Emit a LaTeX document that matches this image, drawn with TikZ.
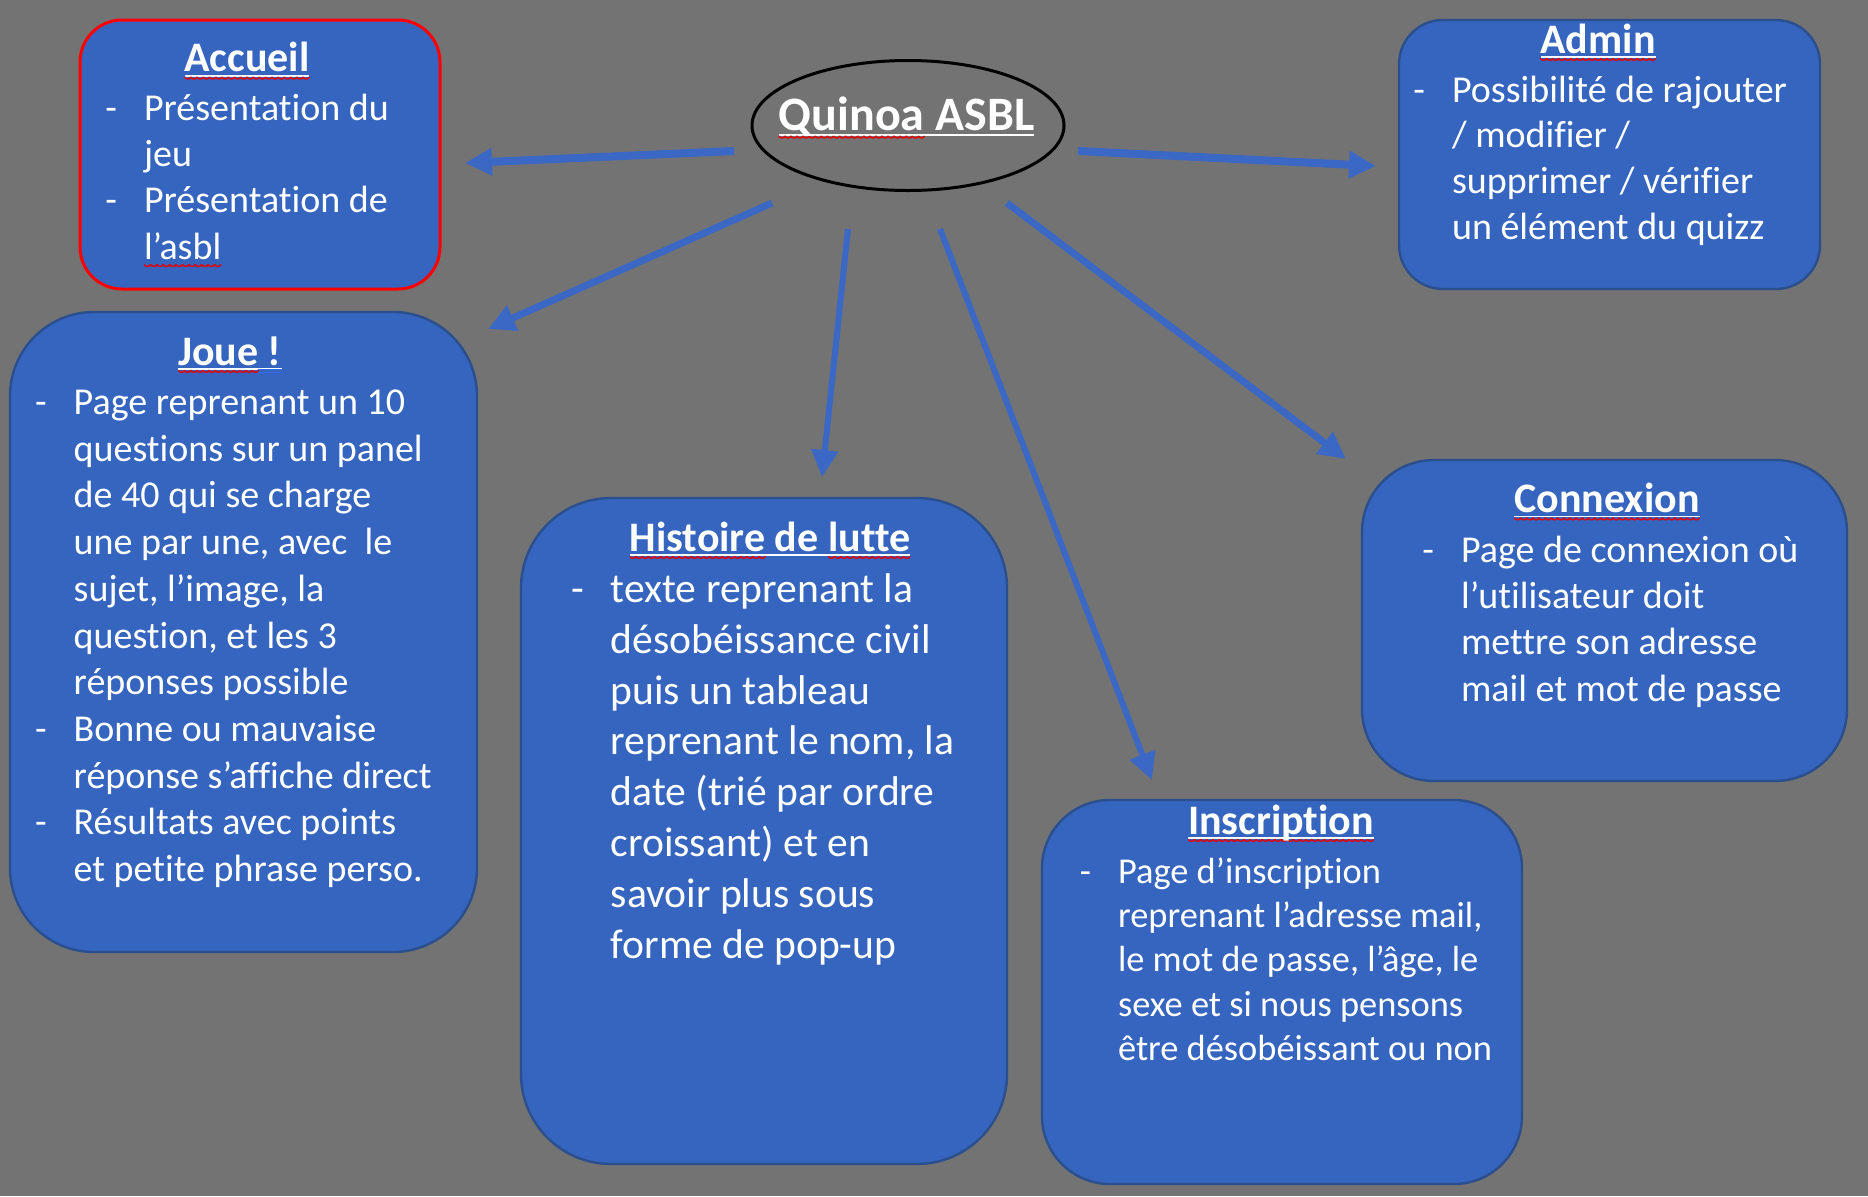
\documentclass[tikz,border=0pt]{standalone}
\usepackage{fontspec}
\setmainfont{Carlito}[Ligatures=NoCommon]
\usetikzlibrary{shapes.geometric,arrows.meta}

\definecolor{slidegray}{HTML}{737373}
\definecolor{boxblue}{HTML}{3565BF}
\definecolor{boxedge}{HTML}{2B4F8C}
\definecolor{linkblue}{HTML}{3B68C5}
\definecolor{spellred}{HTML}{E60000}
\definecolor{grammarblue}{HTML}{2F6BE8}

\newsavebox\headbox
\newsavebox\wordbox
\newsavebox\wavebox
\sbox\wavebox{\begin{pgfpicture}
  \pgfpathmoveto{\pgfpoint{0pt}{1.3pt}}
  \pgfpathcurveto{\pgfpoint{0.3pt}{-0.1pt}}{\pgfpoint{2.7pt}{-0.1pt}}{\pgfpoint{3pt}{1.3pt}}
  \pgfsetlinewidth{0.7pt}
  \pgfsetstrokecolor{spellred}
  \pgfusepath{stroke}
  \pgfresetboundingbox
  \pgfpathrectangle{\pgfpointorigin}{\pgfpoint{3pt}{1.3pt}}
  \pgfusepath{use as bounding box}
\end{pgfpicture}}
\newcommand\spellwave[1]{\sbox\wordbox{#1}\rlap{\raisebox{-3.9pt}[0pt][0pt]{\hbox to\wd\wordbox{\xleaders\copy\wavebox\hfil}}}\usebox\wordbox}
\newcommand\grammarline[1]{\sbox\wordbox{#1}\rlap{\color{grammarblue}\rule[-2.4pt]{\wd\wordbox}{0.5pt}}\rlap{\color{grammarblue}\rule[-4.1pt]{\wd\wordbox}{0.5pt}}\usebox\wordbox}
\newcommand\headline[1]{\sbox\headbox{#1}\rlap{\rule[-2.4pt]{\wd\headbox}{0.8pt}}\usebox\headbox}

\begin{document}
\begin{tikzpicture}[x=0.5pt,y=-0.5pt,
    box/.style={draw=boxedge,line width=1.2pt,fill=boxblue,rounded corners=#1,inner sep=0pt},
    head/.style={text=white,font=\fontsize{21}{25}\selectfont\bfseries,anchor=base,inner sep=0pt},
    body/.style={text=white,anchor=base west,inner sep=0pt},
    link/.style={linkblue,line width=#1,-{Triangle[length=13.5pt,width=13pt]}},
    link/.default=3.5pt]

  \fill[slidegray] (0,0) rectangle (1868,1196);
  \useasboundingbox (0,0) rectangle (1868,1196);

  % boxes
  \node[box=21pt,draw=red,line width=1.5pt,minimum width=180pt,minimum height=134.5pt] (accueil) at (260,154.5) {};
  \node[box=22pt,minimum width=210.5pt,minimum height=134.5pt] (admin) at (1609.5,154.5) {};
  \node[box=42pt,minimum width=233.5pt,minimum height=320pt] (joue) at (243.5,632) {};
  \node[box=45pt,minimum width=243pt,minimum height=333pt] (histoire) at (764,831) {};
  \node[box=36pt,minimum width=242.5pt,minimum height=160.5pt] (connexion) at (1604.5,620.5) {};
  \node[box=34pt,minimum width=240pt,minimum height=192pt] (inscription) at (1282,992) {};
  \node[draw=black,line width=1.5pt,ellipse,minimum width=156pt,minimum height=65pt,inner sep=0pt] (quinoa) at (908,125.5) {};

  % titles
  \node[head,font=\fontsize{24}{29}\selectfont\bfseries] (quinoa-t) at (906.6,130.7) {\headline{\spellwave{Quinoa} ASBL}};
  \node[head] (accueil-t) at (247,71.7) {\headline{\spellwave{Accueil}}};
  \node[head] (admin-t) at (1598,53) {\headline{\spellwave{Admin}}};
  \node[head] (joue-t) at (230,365) {\headline{\spellwave{Joue}\grammarline{~!}}};
  \node[head] (histoire-t) at (770,551) {\headline{\spellwave{Histoire} de \spellwave{lutte}}};
  \node[head] (connexion-t) at (1607,512.5) {\headline{\spellwave{Connexion}}};
  \node[head] (inscription-t) at (1281,834) {\headline{\spellwave{Inscription}}};

  % texts
  \node[body,font=\fontsize{19}{23.2}\selectfont] (accueil-b) at (105,120) {%
    \begin{tabular}[t]{@{}l@{\hspace{13.5pt}}l@{}}
      - & Présentation du\\
        & jeu\\
      - & Présentation de\\
        & \spellwave{l’asbl}
    \end{tabular}};
  \node[body,font=\fontsize{19}{22.9}\selectfont] (admin-b) at (1413,102) {%
    \begin{tabular}[t]{@{}l@{\hspace{13.5pt}}l@{}}
      - & Possibilité de rajouter\\
        & / modifier /\\
        & supprimer / vérifier\\
        & un élément du quizz
    \end{tabular}};
  \node[body,font=\fontsize{19}{23.35}\selectfont] (joue-b) at (34.7,414.5) {%
    \begin{tabular}[t]{@{}l@{\hspace{13.5pt}}l@{}}
      - & Page reprenant un 10\\
        & questions sur un panel\\
        & de 40 qui se charge\\
        & une par une, avec\ \ le\\
        & sujet, l’image, la\\
        & question, et les 3\\
        & réponses possible\\
      - & Bonne ou mauvaise\\
        & réponse s’affiche direct\\
      - & Résultats avec points\\
        & et petite phrase perso.
    \end{tabular}};
  \node[body,font=\fontsize{20.8}{25.4}\selectfont] (histoire-b) at (570.6,602.5) {%
    \begin{tabular}[t]{@{}l@{\hspace{13.5pt}}l@{}}
      - & texte reprenant la\\
        & désobéissance civil\\
        & puis un tableau\\
        & reprenant le nom, la\\
        & date (trié par ordre\\
        & croissant) et en\\
        & savoir plus sous\\
        & forme de pop-up
    \end{tabular}};
  \node[body,font=\fontsize{19}{23.2}\selectfont] (connexion-b) at (1422,562) {%
    \begin{tabular}[t]{@{}l@{\hspace{13.5pt}}l@{}}
      - & Page de connexion où\\
        & l’utilisateur doit\\
        & mettre son adresse\\
        & mail et mot de passe
    \end{tabular}};
  \node[body,font=\fontsize{18.2}{22.2}\selectfont] (inscription-b) at (1079.5,883) {%
    \begin{tabular}[t]{@{}l@{\hspace{13.5pt}}l@{}}
      - & Page d’inscription\\
        & reprenant l’adresse mail,\\
        & le mot de passe, l’âge, le\\
        & sexe et si nous pensons\\
        & être désobéissant ou non
    \end{tabular}};

  % arrows
  \coordinate (acc-from) at (734,151);   \coordinate (acc-to) at (465,163);
  \coordinate (adm-from) at (1078,151);  \coordinate (adm-to) at (1376,166);
  \coordinate (jou-from) at (772,203);   \coordinate (jou-to) at (488,329);
  \coordinate (his-from) at (848,229);   \coordinate (his-to) at (822,477);
  \coordinate (ins-from) at (940,229);   \coordinate (ins-to) at (1152,780);
  \coordinate (con-from) at (1007,203);  \coordinate (con-to) at (1346,459);

  \draw[link=4pt] (acc-from) -- (acc-to);
  \draw[link=4pt] (adm-from) -- (adm-to);
  \draw[link] (jou-from) -- (jou-to);
  \draw[link=3pt] (his-from) -- (his-to);
  \draw[link=3pt] (ins-from) -- (ins-to);
  \draw[link] (con-from) -- (con-to);

\end{tikzpicture}
\end{document}
